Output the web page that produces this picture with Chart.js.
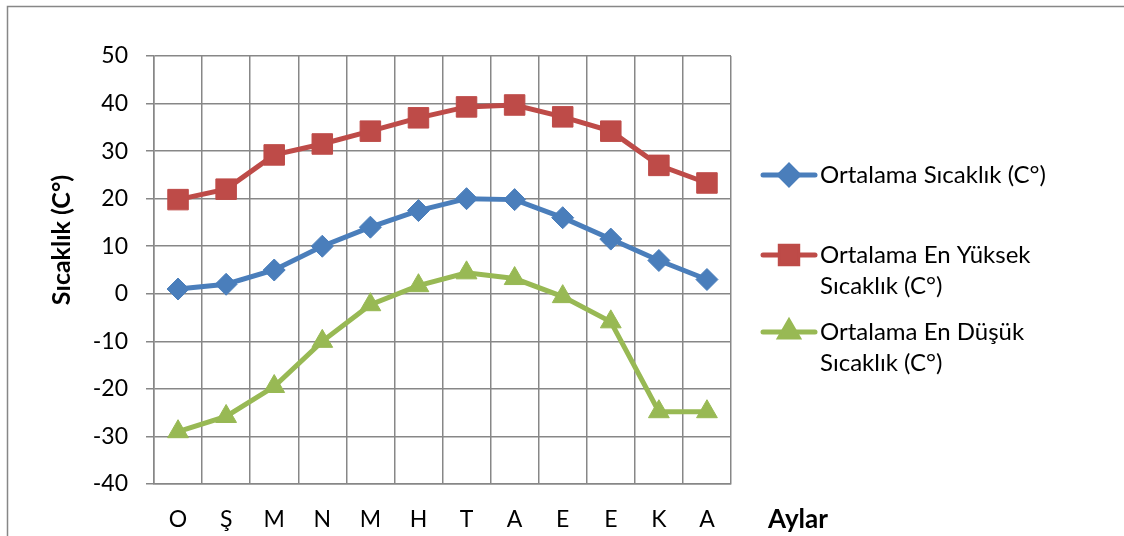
<!DOCTYPE html>
<html>
<head>
<meta charset="utf-8">
<script src="https://cdn.jsdelivr.net/npm/chart.js@4.4.1/dist/chart.umd.min.js"></script>
<style>
  html, body { margin: 0; padding: 0; background: #fff; }
  #wrap { width: 1124px; height: 536px; position: relative; }
</style>
</head>
<body>
<div id="wrap"><canvas id="c" width="1124" height="536"></canvas></div>
<script>
const months = ["O", "Ş", "M", "N", "M", "H", "T", "A", "E", "E", "K", "A"];
const avgTemp = [1, 2, 5, 10, 14, 17.5, 20, 19.8, 16, 11.5, 7, 3];
const avgHigh = [19.8, 22, 29.2, 31.5, 34.2, 37, 39.3, 39.7, 37.2, 34.2, 27, 23.3];
const avgLow = [-29, -25.8, -19.5, -10, -2.3, 1.7, 4.4, 3.2, -0.6, -5.9, -24.8, -24.8];
const seriesLabels = ["Ortalama Sıcaklık (C°)", "Ortalama En Yüksek Sıcaklık (C°)", "Ortalama En Düşük Sıcaklık (C°)"];
const yTitle = "Sıcaklık (C°)";
const xTitle = "Aylar";
const yMin = -40, yMax = 50, yStep = 10;

const FONT = "Lato";
const BLUE = "#4A7EBB", RED = "#BE4B48", GREEN = "#98B954";
const GRID = "#878787";

const frame = {
  id: 'frame',
  beforeDraw(chart) {
    const ctx = chart.ctx;
    ctx.save();
    ctx.strokeStyle = GRID;
    ctx.lineWidth = 1.5;
    ctx.beginPath();
    ctx.moveTo(7.5, 540);
    ctx.lineTo(7.5, 6.5);
    ctx.lineTo(1130, 6.5);
    ctx.stroke();
    ctx.restore();
  }
};

const sideLegend = {
  id: 'sideLegend',
  afterDraw(chart) {
    const ctx = chart.ctx;
    ctx.save();
    // axis titles
    ctx.fillStyle = "#000";
    ctx.font = "bold 26px " + FONT;
    ctx.textBaseline = "middle";
    ctx.textAlign = "left";
    ctx.fillText(xTitle, 768, 520);
    ctx.save();
    ctx.translate(62, 240);
    ctx.rotate(-Math.PI / 2);
    ctx.textAlign = "center";
    ctx.font = "bold 25px " + FONT;
    ctx.fillText(yTitle, 0, 0);
    ctx.restore();

    const rows = [175, 255, 332];
    const lineH = 31;
    ctx.font = "24px " + FONT;
    chart.data.datasets.forEach((ds, i) => {
      const y = rows[i];
      ctx.strokeStyle = ds.borderColor;
      ctx.lineWidth = 5;
      ctx.lineCap = "round";
      ctx.beginPath();
      ctx.moveTo(763, y);
      ctx.lineTo(815, y);
      ctx.stroke();
      Chart.helpers.drawPoint(ctx, {
        pointStyle: ds.pointStyle, radius: ds.pointRadius * 0.85, borderWidth: 1
      }, 789, y);
      ctx.fillStyle = ds.backgroundColor;
      ctx.fill();
      const words = ds.label.split(" ");
      const lines = [];
      let cur = "";
      words.forEach(w => {
        const t = cur ? cur + " " + w : w;
        if (ctx.measureText(t).width > 260 && cur) { lines.push(cur); cur = w; }
        else cur = t;
      });
      lines.push(cur);
      ctx.fillStyle = "#000";
      ctx.textAlign = "left";
      ctx.textBaseline = "middle";
      lines.forEach((l, k) => ctx.fillText(l, 820, y + k * lineH));
    });
    ctx.restore();
  }
};

const ctx = document.getElementById('c').getContext('2d');
new Chart(ctx, {
  type: 'line',
  data: {
    labels: months,
    datasets: [
      { label: seriesLabels[0], data: avgTemp, borderColor: BLUE, backgroundColor: BLUE,
        pointStyle: 'rectRot', pointRadius: 11, pointBorderWidth: 1, borderWidth: 5, tension: 0 },
      { label: seriesLabels[1], data: avgHigh, borderColor: RED, backgroundColor: RED,
        pointStyle: 'rect', pointRadius: 14.5, pointBorderWidth: 1, borderWidth: 5, tension: 0 },
      { label: seriesLabels[2], data: avgLow, borderColor: GREEN, backgroundColor: GREEN,
        pointStyle: 'triangle', pointRadius: 12, pointBorderWidth: 1, borderWidth: 5, tension: 0 }
    ]
  },
  options: {
    responsive: false,
    animation: false,
    devicePixelRatio: 1,
    layout: { padding: { left: 0, top: 56, right: 393, bottom: 0 } },
    plugins: { legend: { display: false }, tooltip: { enabled: false } },
    scales: {
      x: {
        offset: true,
        grid: { color: GRID, lineWidth: 1.5, drawTicks: false, offset: true },
        border: { color: GRID, width: 1.5 },
        ticks: { color: "#000", font: { family: FONT, size: 23 }, padding: 22, maxRotation: 0, autoSkip: false },
        afterFit(s) { s.height = 52; }
      },
      y: {
        min: yMin, max: yMax,
        grid: { color: GRID, lineWidth: 1.5, tickLength: 8 },
        border: { color: GRID, width: 1.5 },
        ticks: { stepSize: yStep, color: "#000", font: { family: FONT, size: 23 }, padding: 18 },
        afterFit(s) { s.width = 154; }
      }
    }
  },
  plugins: [frame, sideLegend]
});
</script>
</body>
</html>
